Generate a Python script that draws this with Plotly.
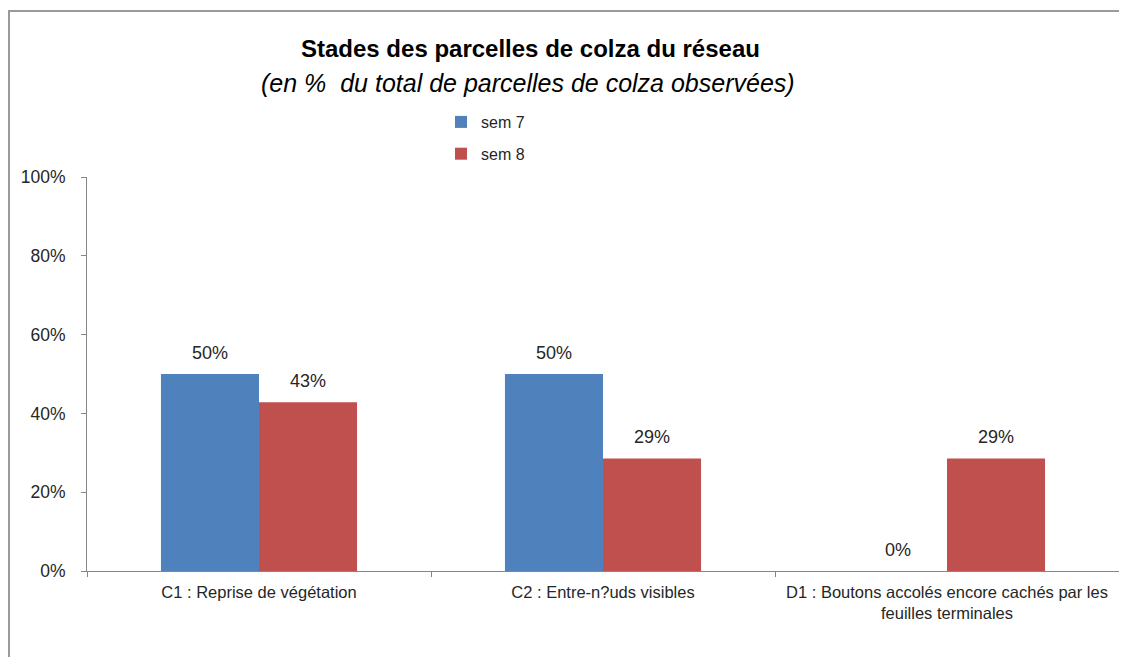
import plotly.graph_objects as go

categories = [
    "C1 : Reprise de végétation",
    "C2 : Entre-n?uds visibles",
    "D1 : Boutons accolés encore cachés par les<br>feuilles terminales",
]
series_names = ["sem 7", "sem 8"]
sem7 = [0.50, 0.50, 0.0]
sem8 = [0.4286, 0.2857, 0.2857]
colors = ["#4F81BD", "#C0504D"]
y_ticks = [0, 0.2, 0.4, 0.6, 0.8, 1.0]

# page body has an 8px margin; work in screen pixels and convert
OFF = 8
W, H = 1127 - 2 * OFF, 665 - 2 * OFF
plot_left, plot_right, plot_top, plot_bottom = 87, 1119, 177, 571
L = plot_left - OFF
R = max(W - (plot_right - OFF), 0)
T = plot_top - OFF
B = H - (plot_bottom - OFF)
pw, ph = W - L - R, H - T - B

def px_x(x):
    return (x - plot_left) / pw

def px_y(y):
    return (plot_bottom - y) / ph

fig = go.Figure()
for i, (name, vals) in enumerate(zip(series_names, [sem7, sem8])):
    fig.add_trace(go.Bar(
        x=categories, y=vals, name=name,
        marker=dict(color=colors[i], line=dict(width=0)),
        text=[f"{v:.0%}" for v in vals],
        # small invisible second line lifts the label a few pixels off the bar
        texttemplate="<span style='font-size:18px'>%{text}</span><br><span style='color:rgba(0,0,0,0)'>.</span>",
        textposition="outside",
        textfont=dict(family="Liberation Sans, Arial, sans-serif", size=8, color="#262626"),
        cliponaxis=False,
        legendgroup=name,
    ))

border = dict(color="#9a9a9a", width=2)

fig.update_layout(
    width=W, height=H,
    margin=dict(l=L, r=R, t=T, b=B),
    paper_bgcolor="white", plot_bgcolor="white",
    barmode="group", bargap=0.43, bargroupgap=0,
    showlegend=True,
    legend=dict(
        x=px_x(441), y=px_y(105), xanchor="left", yanchor="top",
        font=dict(family="Liberation Sans, Arial, sans-serif", size=16, color="#262626"),
        traceorder="grouped", tracegroupgap=8,
        bgcolor="rgba(0,0,0,0)",
        itemwidth=30,
    ),
    xaxis=dict(
        showline=True, linecolor="#868686", linewidth=1,
        ticks="outside", tickson="boundaries", ticklen=5, tickcolor="#868686",
        tickfont=dict(family="Liberation Sans, Arial, sans-serif", size=16.5, color="#262626"),
        ticklabelstandoff=6,
        showgrid=False,
    ),
    yaxis=dict(
        range=[0, 1], tickvals=y_ticks, tickformat=".0%",
        showline=True, linecolor="#868686", linewidth=1,
        ticks="outside", ticklen=5, tickcolor="#868686",
        tickfont=dict(family="Liberation Sans, Arial, sans-serif", size=17.5, color="#262626"),
        ticklabelstandoff=12,
        showgrid=False, zeroline=False,
    ),
    annotations=[
        dict(text="<b>Stades des parcelles de colza du réseau</b>",
             xref="paper", yref="paper", x=px_x(530), y=px_y(48),
             xanchor="center", yanchor="middle", showarrow=False,
             font=dict(family="Liberation Sans, Arial, sans-serif", size=24, color="#000000")),
        dict(text="<i>(en %  du total de parcelles de colza observées)</i>",
             xref="paper", yref="paper", x=px_x(528), y=px_y(83),
             xanchor="center", yanchor="middle", showarrow=False,
             font=dict(family="Liberation Sans, Arial, sans-serif", size=25, color="#000000")),
    ],
    shapes=[
        dict(type="line", xref="paper", yref="paper",
             x0=px_x(9), y0=px_y(800), x1=px_x(9), y1=px_y(11), line=border, layer="below"),
        dict(type="line", xref="paper", yref="paper",
             x0=px_x(8), y0=px_y(11), x1=px_x(1400), y1=px_y(11), line=border, layer="below"),
    ],
)

fig.write_html("out.html")
